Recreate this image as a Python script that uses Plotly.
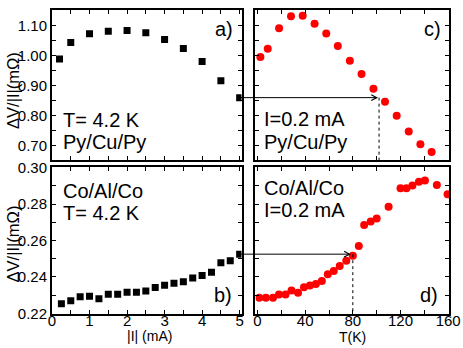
import plotly.graph_objects as go

# ---------------- data ----------------
# panel a) Py/Cu/Py, T = 4.2 K : dV/|I| vs |I|
I_a = [0.2, 0.5, 1.0, 1.5, 2.0, 2.5, 3.0, 3.5, 4.0, 4.5, 5.0]
R_a = [0.990, 1.045, 1.074, 1.082, 1.085, 1.077, 1.055, 1.025, 0.981, 0.917, 0.861]

# panel b) Co/Al/Co, T = 4.2 K
I_b = [0.25, 0.5, 0.75, 1.0, 1.25, 1.5, 1.75, 2.0, 2.25, 2.5,
       2.75, 3.0, 3.25, 3.5, 3.75, 4.0, 4.25, 4.5, 4.75, 5.0]
R_b = [0.2252, 0.2269, 0.2291, 0.2293, 0.2280, 0.2304, 0.2304, 0.2315, 0.2315, 0.2323,
       0.2342, 0.2354, 0.2365, 0.2374, 0.2394, 0.2407, 0.2425, 0.2478, 0.2489, 0.2525]

# panel c) Py/Cu/Py, I = 0.2 mA : signal vs T
T_c = [2.4, 8.6, 18.1, 28.1, 37.9, 47.9, 57.7, 67.4, 77.5, 87.3,
       97.3, 107.0, 116.8, 126.9, 136.7, 146.1]
R_c = [0.996, 1.024, 1.092, 1.132, 1.134, 1.107, 1.075, 1.033, 0.984, 0.940,
       0.891, 0.847, 0.801, 0.748, 0.706, 0.680]

# panel d) Co/Al/Co, I = 0.2 mA
T_d = [1.5, 7, 13, 18, 23.5, 28.5, 34, 39, 44, 49, 54, 59, 64, 69, 74.5, 80,
       85, 89.5, 95, 100, 110, 120, 125, 130, 135.5, 140.5, 150.5, 159.5]
R_d = [0.2286, 0.2286, 0.2286, 0.2303, 0.2303, 0.2325, 0.2313, 0.2343, 0.2353, 0.2361,
       0.2377, 0.2414, 0.2432, 0.2460, 0.2489, 0.2516, 0.2570, 0.2686, 0.2705, 0.2721,
       0.2786, 0.2888, 0.2888, 0.2902, 0.2923, 0.2930, 0.2905, 0.2854]

# temperatures where the arrows from the |I| = 5 mA points meet the T curves
T_cross_c = 102.0
T_cross_d = 80.0

xticks_I = [0, 1, 2, 3, 4, 5]
xticks_T = [0, 40, 80, 120, 160]

# ---------------- layout geometry ----------------
W, H = 463, 348
ML, MR, MT, MB = 52, 13, 2, 34
PW, PH = W - ML - MR, H - MT - MB

dom_left = [0.0, 190 / PW]
dom_right = [204 / PW, 1.0]
dom_top = [(PH + MT - 156) / PH, 1.0]
dom_bot = [0.0, (PH + MT - 163) / PH]

rng_I = [0.0, 5.05]
rng_T = [-1.7, 160.7]
rng_Ra = [0.653, 1.153]
rng_Rb = [0.2196, 0.3005]


def xpx(v, rng, dom):
    f = (v - rng[0]) / (rng[1] - rng[0])
    return ML + PW * (dom[0] + f * (dom[1] - dom[0]))


def px2paper_x(px):
    return (px - ML) / PW


def px2paper_y(py):
    return (MT + PH - py) / PH


FONT = "Liberation Sans, Arial, Helvetica, sans-serif"
RED = "#ff0000"

fig = go.Figure()
fig.add_trace(go.Scatter(x=I_a, y=R_a, mode="markers", xaxis="x", yaxis="y",
                         marker=dict(symbol="square", size=7, color="black")))
fig.add_trace(go.Scatter(x=T_c, y=R_c, mode="markers", xaxis="x2", yaxis="y2",
                         marker=dict(symbol="circle", size=8, color=RED)))
fig.add_trace(go.Scatter(x=I_b, y=R_b, mode="markers", xaxis="x3", yaxis="y3",
                         marker=dict(symbol="square", size=7, color="black")))
fig.add_trace(go.Scatter(x=T_d, y=R_d, mode="markers", xaxis="x4", yaxis="y4",
                         marker=dict(symbol="circle", size=8, color=RED)))


def axis(dom, rng, dtick, minor, labels, anchor, fmt=None, tick0=None, standoff=0):
    d = dict(domain=dom, range=rng, anchor=anchor, showline=True, linewidth=2,
             linecolor="black", mirror="ticks", ticks="inside", ticklen=4,
             tickwidth=1, tickcolor="black", showgrid=False, zeroline=False,
             dtick=dtick, showticklabels=labels, ticklabelstandoff=standoff,
             tickfont=dict(family=FONT, size=15, color="black"),
             minor=dict(dtick=minor, ticks="inside", ticklen=4, tickwidth=1,
                        tickcolor="black", showgrid=False))
    if fmt:
        d["tickformat"] = fmt
    if tick0 is not None:
        d["tick0"] = tick0
    return d


fig.update_layout(
    width=W, height=H, margin=dict(l=ML, r=MR, t=MT, b=MB),
    paper_bgcolor="white", plot_bgcolor="white", showlegend=False,
    font=dict(family=FONT, color="black"),
    xaxis=axis(dom_left, rng_I, 1, 0.5, False, "y", tick0=0),
    yaxis=axis(dom_top, rng_Ra, 0.1, 0.05, True, "x", fmt=".2f", tick0=0.7),
    xaxis2=axis(dom_right, rng_T, 40, 20, False, "y2", tick0=0),
    yaxis2=axis(dom_top, rng_Ra, 0.1, 0.05, False, "x2", tick0=0.7),
    xaxis3=axis(dom_left, rng_I, 1, 0.5, True, "y3", tick0=0, standoff=-8),
    yaxis3=axis(dom_bot, rng_Rb, 0.02, 0.01, True, "x3", fmt=".2f", tick0=0.22),
    xaxis4=axis(dom_right, rng_T, 40, 20, True, "y4", tick0=0, standoff=-8),
    yaxis4=axis(dom_bot, rng_Rb, 0.02, 0.01, False, "x4", tick0=0.22),
)
fig.layout.xaxis3.tickvals = xticks_I
fig.layout.xaxis4.tickvals = xticks_T

ann = []


def txt(text, x_px, y_px, anchor="left", size=20, angle=0):
    ann.append(dict(text=text, xref="paper", yref="paper",
                    x=px2paper_x(x_px), y=px2paper_y(y_px),
                    xanchor=anchor, yanchor="middle", showarrow=False,
                    textangle=angle,
                    font=dict(family=FONT, size=size, color="black")))


txt("a)", 235, 21.5, "right")
txt("c)", 444, 21.5, "right")
txt("T= 4.2 K", 61, 114.5)
txt("Py/Cu/Py", 61, 137)
txt("I=0.2 mA", 263, 113.5)
txt("Py/Cu/Py", 263, 137)
txt("Co/Al/Co", 61, 187.5)
txt("T= 4.2 K", 61, 210)
txt("b)", 234, 294.5, "right")
txt("Co/Al/Co", 263, 184.5)
txt("I=0.2 mA", 263, 207.5)
txt("d)", 441, 295, "right")
txt("ΔV/|I|(mΩ)", 13, 85, "center", 16.5, -90)
txt("ΔV/|I|(mΩ)", 13, 242.5, "center", 16.5, -90)
txt("|I| (mA)", 149.5, 337, "center", 14)
txt("T(K)", 353, 338, "center", 14)

# arrows from the 5 mA points to the temperature curves
tail_a = xpx(I_a[-1], rng_I, dom_left)
head_c = xpx(T_cross_c, rng_T, dom_right)
ann.append(dict(x=T_cross_c, y=R_a[-1], xref="x2", yref="y2", text="",
                showarrow=True, arrowhead=5, arrowsize=1.1, arrowwidth=1,
                arrowcolor="black", ax=tail_a - head_c, ay=0, axref="pixel",
                ayref="pixel", standoff=1, startstandoff=0))
tail_b = xpx(I_b[-1], rng_I, dom_left)
head_d = xpx(T_cross_d, rng_T, dom_right)
ann.append(dict(x=T_cross_d, y=R_b[-1], xref="x4", yref="y4", text="",
                showarrow=True, arrowhead=5, arrowsize=1.1, arrowwidth=1,
                arrowcolor="black", ax=tail_b - head_d, ay=0, axref="pixel",
                ayref="pixel", standoff=2, startstandoff=0))
fig.update_layout(annotations=ann)

fig.add_shape(type="line", xref="x2", yref="y2", x0=T_cross_c, x1=T_cross_c,
              y0=R_a[-1], y1=rng_Ra[0], line=dict(color="black", width=1, dash="dot"))
fig.add_shape(type="line", xref="x4", yref="y4", x0=T_cross_d, x1=T_cross_d,
              y0=R_b[-1], y1=rng_Rb[0], line=dict(color="black", width=1, dash="dot"))

fig.write_html("out.html", config={"displayModeBar": False},
               post_script="document.body.style.margin='0';"
                           "document.body.style.overflow='hidden';")
